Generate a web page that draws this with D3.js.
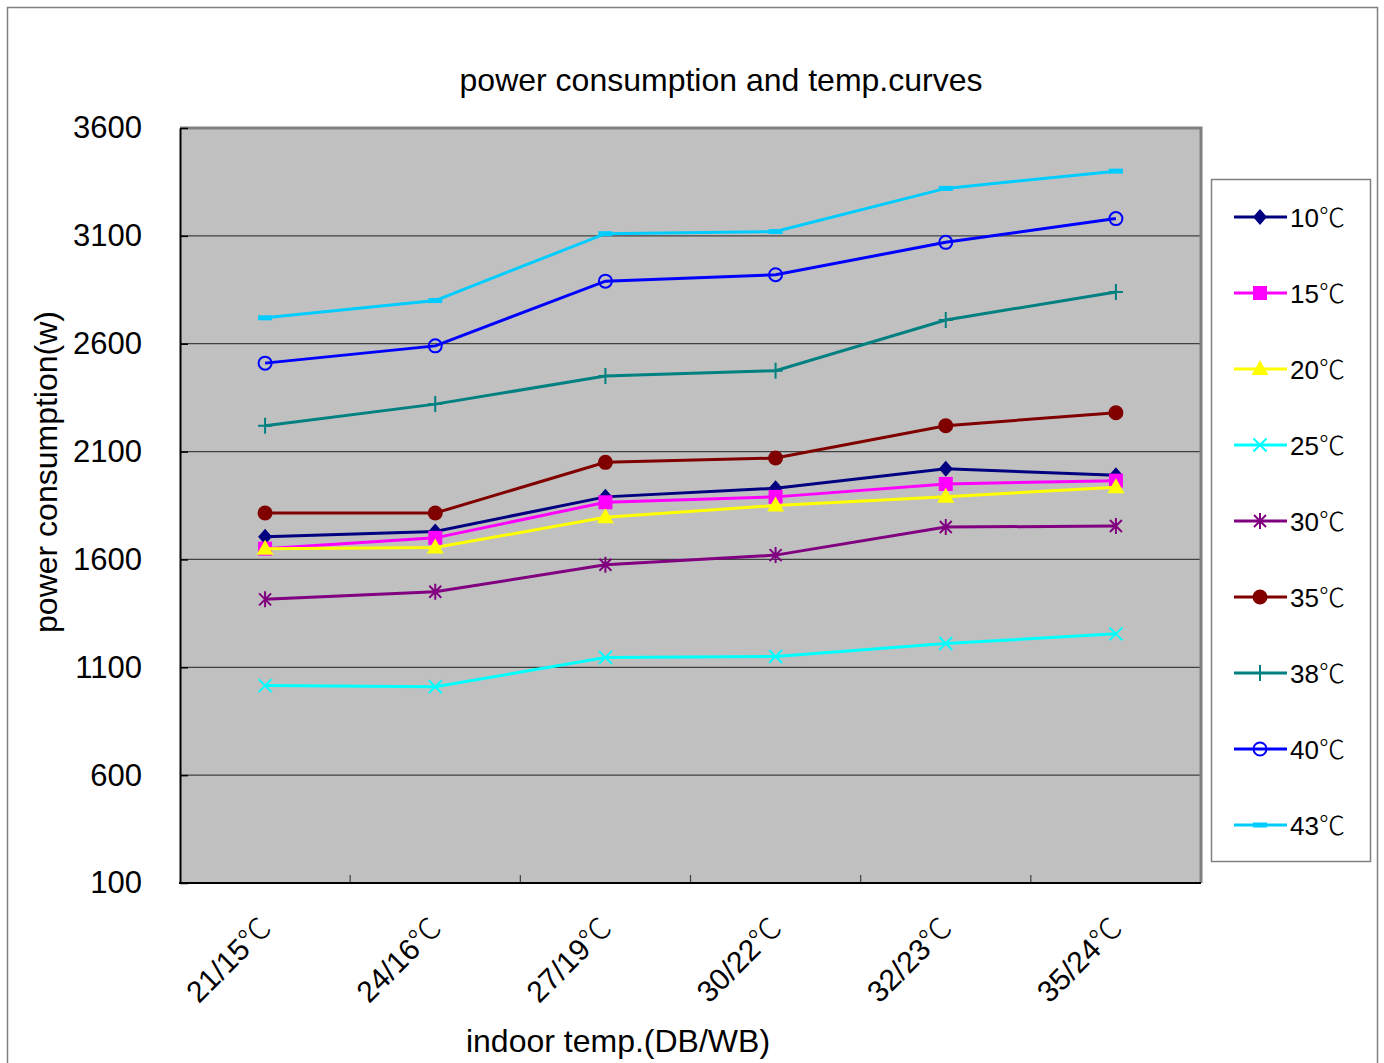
<!DOCTYPE html>
<html>
<head>
<meta charset="utf-8">
<script src="https://cdn.jsdelivr.net/npm/d3@7"></script>
<style>
  html, body { margin: 0; padding: 0; background: #fff; }
  svg { display: block; font-family: "Liberation Sans", Arial, "Noto Sans CJK SC", sans-serif; }
</style>
</head>
<body>
<svg id="chart" width="1384" height="1063"></svg>
<script>
// indoor conditions (DB/WB)
const categories = ["21/15℃", "24/16℃", "27/19℃", "30/22℃", "32/23℃", "35/24℃"];

// outdoor temperature series, power consumption in W
const seriesNames = ["10℃", "15℃", "20℃", "25℃", "30℃", "35℃", "38℃", "40℃", "43℃"];
const t10 = [1705, 1730, 1890, 1930, 2020, 1990];
const t15 = [1650, 1700, 1865, 1890, 1950, 1965];
const t20 = [1650, 1655, 1795, 1850, 1890, 1935];
const t25 = [1015, 1010, 1145, 1150, 1210, 1255];
const t30 = [1415, 1450, 1575, 1620, 1750, 1755];
const t35 = [1815, 1815, 2050, 2070, 2220, 2280];
const t38 = [2220, 2320, 2450, 2475, 2710, 2840];
const t40 = [2510, 2590, 2890, 2920, 3070, 3180];
const t43 = [2720, 2800, 3110, 3120, 3320, 3400];

const yTicks = [100, 600, 1100, 1600, 2100, 2600, 3100, 3600];

const seriesValues = [t10, t15, t20, t25, t30, t35, t38, t40, t43];
const colors = ["#000080", "#ff00ff", "#ffff00", "#00ffff", "#800080", "#800000", "#008080", "#0000ff", "#00ccff"];
const markers = ["diamond", "square", "triangle", "x", "star", "dot", "plus", "ring", "dash"];

const svg = d3.select("#chart");
const plot = { left: 180, right: 1201, top: 128, bottom: 883 };

// the degree sign is set in a CJK face, like the original
function degreeText(sel, str) {
  const parts = str.split("℃");
  sel.append("tspan").text(parts[0]);
  if (parts.length > 1) {
    sel.append("tspan").attr("font-family", "'Noto Sans CJK SC'").attr("font-weight", 300).text("℃");
  }
}

// outer frame
svg.append("rect")
  .attr("x", 7.5).attr("y", 7.5)
  .attr("width", 1370).attr("height", 1070)
  .attr("fill", "#fff").attr("stroke", "#808080").attr("stroke-width", 1.5);

const x = d3.scaleBand().domain(categories).range([plot.left, plot.right]).paddingInner(0).paddingOuter(0);
const y = d3.scaleLinear().domain([100, 3600]).range([plot.bottom, plot.top]);
const cx = c => x(c) + x.bandwidth() / 2;

// plot background
svg.append("rect")
  .attr("x", plot.left).attr("y", plot.top)
  .attr("width", plot.right - plot.left).attr("height", plot.bottom - plot.top)
  .attr("fill", "#c0c0c0");

// gridlines
svg.append("g")
  .selectAll("line")
  .data(yTicks.slice(1, -1))
  .join("line")
  .attr("x1", plot.left).attr("x2", plot.right)
  .attr("y1", d => y(d)).attr("y2", d => y(d))
  .attr("stroke", "#404040").attr("stroke-width", 1.2);

// top / right border
svg.append("path")
  .attr("d", `M${plot.left},${plot.top}H${plot.right}V${plot.bottom}`)
  .attr("fill", "none").attr("stroke", "#808080").attr("stroke-width", 3);

// y axis
const yAxis = svg.append("g")
  .attr("transform", `translate(${plot.left},0)`)
  .call(d3.axisLeft(y).tickValues(yTicks).tickFormat(d3.format("d"))
    .tickSizeInner(-8).tickSizeOuter(0).tickPadding(38));
yAxis.attr("font-family", null).attr("font-size", null);
yAxis.select(".domain").attr("stroke", "#000").attr("stroke-width", 2);
yAxis.selectAll(".tick line").attr("stroke", "#000").attr("stroke-width", 1.5);
yAxis.selectAll(".tick text").attr("font-size", 31).attr("fill", "#000");

// x axis: ticks between categories, pointing inward
svg.append("g")
  .selectAll("line")
  .data(categories.slice(1))
  .join("line")
  .attr("x1", d => x(d)).attr("x2", d => x(d))
  .attr("y1", plot.bottom).attr("y2", plot.bottom - 8)
  .attr("stroke", "#404040").attr("stroke-width", 1.2);
svg.append("line")
  .attr("x1", plot.left - 1).attr("x2", plot.right)
  .attr("y1", plot.bottom).attr("y2", plot.bottom)
  .attr("stroke", "#000").attr("stroke-width", 2);

svg.append("g")
  .selectAll("text")
  .data(categories)
  .join("text")
  .attr("transform", d => `translate(${cx(d) + 8},${plot.bottom + 47}) rotate(-45)`)
  .attr("text-anchor", "end")
  .attr("font-size", 30)
  .each(function (d) { degreeText(d3.select(this), d); });

// titles
svg.append("text")
  .attr("x", 721).attr("y", 91)
  .attr("text-anchor", "middle").attr("font-size", 32)
  .text("power consumption and temp.curves");

svg.append("text")
  .attr("transform", "translate(57,472) rotate(-90)")
  .attr("text-anchor", "middle").attr("font-size", 32)
  .text("power consumption(w)");

svg.append("text")
  .attr("x", 618).attr("y", 1052)
  .attr("text-anchor", "middle").attr("font-size", 32)
  .text("indoor temp.(DB/WB)");

// marker shapes
function drawMarker(g, type, color) {
  switch (type) {
    case "diamond":
      g.append("path").attr("d", "M0,-8L7,0L0,8L-7,0Z").attr("fill", color);
      break;
    case "square":
      g.append("rect").attr("x", -7).attr("y", -7).attr("width", 14).attr("height", 14).attr("fill", color);
      break;
    case "triangle":
      g.append("path").attr("d", "M0,-9L8.5,6L-8.5,6Z").attr("fill", color);
      break;
    case "x":
      g.append("path").attr("d", "M-6.5,-6.5L6.5,6.5M-6.5,6.5L6.5,-6.5")
        .attr("stroke", color).attr("stroke-width", 2).attr("fill", "none");
      break;
    case "star":
      g.append("path").attr("d", "M-6,-6L6,6M-6,6L6,-6M0,-8V8")
        .attr("stroke", color).attr("stroke-width", 2).attr("fill", "none");
      break;
    case "dot":
      g.append("circle").attr("r", 7.5).attr("fill", color);
      break;
    case "plus":
      g.append("path").attr("d", "M0,-8V8M-7,0H7")
        .attr("stroke", color).attr("stroke-width", 2).attr("fill", "none");
      break;
    case "ring":
      g.append("circle").attr("r", 6.5).attr("fill", "none").attr("stroke", color).attr("stroke-width", 2);
      break;
    case "dash":
      g.append("rect").attr("x", -7).attr("y", -2.5).attr("width", 14).attr("height", 5).attr("fill", color);
      break;
  }
}

const line = d3.line()
  .x((d, i) => cx(categories[i]))
  .y(d => y(d));

seriesValues.forEach((vals, s) => {
  const g = svg.append("g");
  g.append("path")
    .attr("d", line(vals))
    .attr("fill", "none")
    .attr("stroke", colors[s])
    .attr("stroke-width", 3);
  vals.forEach((v, i) => {
    const m = g.append("g").attr("transform", `translate(${cx(categories[i])},${y(v)})`);
    drawMarker(m, markers[s], colors[s]);
  });
});

// legend
const legend = svg.append("g");
legend.append("rect")
  .attr("x", 1211.5).attr("y", 179.5)
  .attr("width", 159).attr("height", 682)
  .attr("fill", "#fff").attr("stroke", "#808080").attr("stroke-width", 1.5);

const ly = d3.scalePoint().domain(seriesNames).range([217, 825]);
seriesNames.forEach((name, s) => {
  const g = legend.append("g").attr("transform", `translate(0,${ly(name)})`);
  g.append("line").attr("x1", 1234).attr("x2", 1287).attr("stroke", colors[s]).attr("stroke-width", 3);
  const m = g.append("g").attr("transform", "translate(1260,0)");
  drawMarker(m, markers[s], colors[s]);
  g.append("text")
    .attr("x", 1290).attr("y", 10)
    .attr("font-size", 26)
    .each(function () { degreeText(d3.select(this), name); });
});
</script>
</body>
</html>
